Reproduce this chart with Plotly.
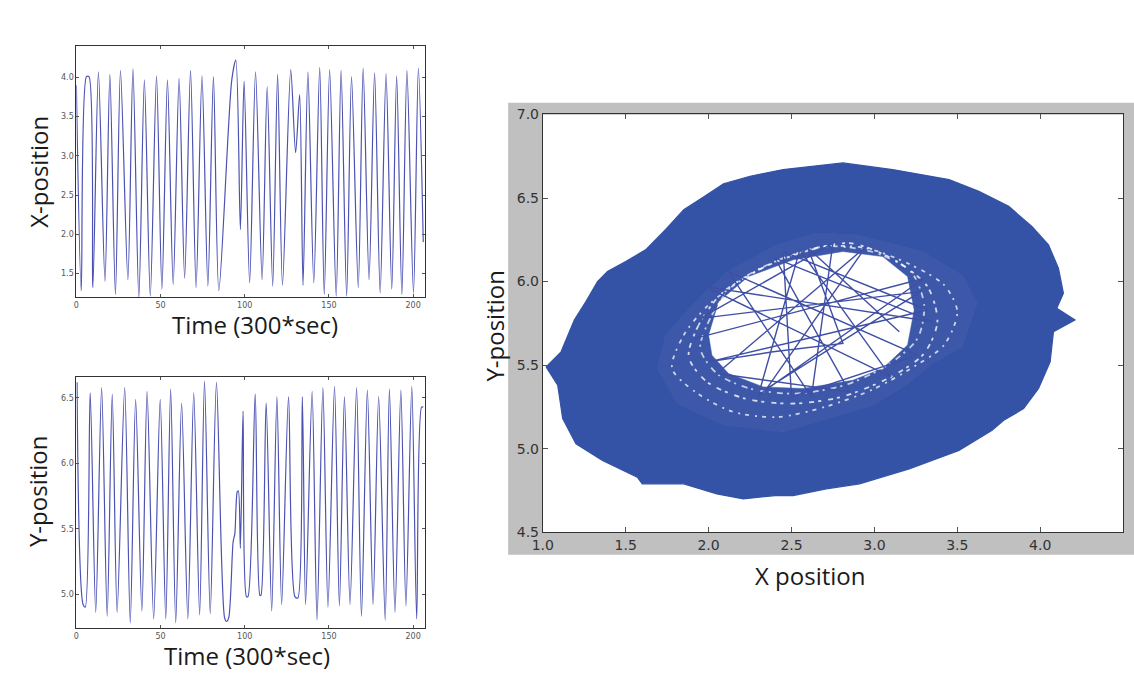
import plotly.graph_objects as go

# ---------------- data ----------------
# Top-left: X-position vs time (turning points of the trace)
tx = [0, 2.9, 6.0, 7.5, 9.8, 13.1, 17.0, 19.9, 23.2, 26.2, 30.6, 33.6, 37.1, 40.4, 43.9,
      47.6, 50.8, 54.1, 57.5, 61.0, 64.3, 67.8, 71.1, 74.6, 78.1, 81.4, 84.6, 92.3, 94.7,
      97.4, 99.6, 102.9, 106.4, 110.3, 113.3, 116.6, 119.5, 122.4, 127.3, 130.2, 132.6,
      134.6, 137.5, 141.0, 144.5, 147.2, 150.4, 154.3, 157.2, 160.5, 163.4, 167.4, 170.3,
      173.8, 177.1, 180.4, 183.9, 187.3, 190.2, 193.3, 196.3, 200.2, 203.1, 206.0]
xpos = [3.90, 1.28, 4.01, 4.01, 1.32, 4.07, 1.40, 4.04, 1.23, 4.09, 1.42, 4.11, 1.19, 3.97, 1.21,
        4.02, 1.30, 3.97, 1.36, 3.99, 1.44, 4.09, 1.32, 4.02, 1.34, 4.01, 1.28, 3.97, 4.22,
        2.06, 3.95, 1.38, 4.07, 1.42, 3.88, 1.34, 4.04, 1.35, 4.10, 3.04, 3.78,
        1.35, 4.07, 1.38, 4.13, 1.23, 4.10, 1.21, 4.09, 1.21, 4.01, 1.32, 4.12,
        1.42, 4.06, 1.25, 4.05, 1.30, 4.02, 1.23, 4.09, 1.25, 4.12, 1.90]

# Bottom-left: Y-position vs time
ty = [0.4, 4.0, 5.3, 8.2, 11.5, 15.0, 18.3, 21.3, 24.2, 28.7, 32.0, 35.2, 38.9, 42.0, 45.9,
      49.8, 53.1, 56.0, 59.0, 62.5, 66.2, 69.7, 73.2, 76.1, 79.5, 83.2, 88.0, 89.2, 90.5,
      93.1, 94.1, 95.5, 96.2, 97.4, 99.0, 101.0, 101.9, 106.2, 109.0, 109.6, 112.7, 116.0,
      119.1, 121.9, 126.0, 129.8, 131.5, 134.2, 136.1, 140.0, 142.9, 146.4, 149.4, 153.3,
      156.2, 159.2, 162.5, 166.4, 169.3, 172.8, 176.2, 179.5, 183.4, 185.9, 189.2, 192.7,
      195.7, 199.2, 202.1, 205.0, 206.0]
ypos = [6.62, 4.92, 4.90, 6.54, 4.86, 6.58, 4.83, 6.53, 4.86, 6.58, 4.78, 6.49, 4.87, 6.55, 4.81,
        6.49, 4.81, 6.57, 4.78, 6.46, 4.81, 6.54, 4.84, 6.63, 4.85, 6.62, 4.82, 4.79, 4.82,
        5.40, 5.46, 5.78, 5.79, 5.35, 6.40, 4.98, 4.98, 6.53, 4.99, 4.99, 6.46, 4.87,
        6.51, 4.92, 6.51, 4.98, 4.97, 6.51, 4.92, 6.55, 4.80, 6.58, 4.90, 6.59,
        4.91, 6.51, 4.92, 6.58, 4.83, 6.56, 4.92, 6.51, 4.80, 6.57, 4.86, 6.56,
        4.91, 6.59, 4.81, 6.43, 6.43]

# Right: phase portrait (traced outlines of the dense trajectory)
ring_outer_x = [1.02, 1.09, 1.12, 1.20, 1.36, 1.57, 1.60, 1.72, 1.85, 2.05, 2.21, 2.40, 2.51,
                2.71, 2.91, 3.21, 3.35, 3.51, 3.71, 3.78, 3.90, 3.99, 4.06, 4.08, 4.21, 4.10,
                4.14, 4.11, 4.05, 3.95, 3.81, 3.63, 3.45, 3.11, 2.81, 2.63, 2.45, 2.25, 2.09,
                1.96, 1.85, 1.74, 1.62, 1.50, 1.39, 1.33, 1.26, 1.19, 1.11]
ring_outer_y = [5.49, 5.38, 5.18, 5.03, 4.93, 4.83, 4.79, 4.79, 4.79, 4.73, 4.70, 4.72, 4.72,
                4.76, 4.79, 4.88, 4.93, 4.99, 5.11, 5.17, 5.24, 5.36, 5.52, 5.70, 5.77, 5.84,
                5.93, 6.08, 6.22, 6.33, 6.45, 6.54, 6.61, 6.67, 6.71, 6.69, 6.67, 6.63, 6.585,
                6.50, 6.43, 6.31, 6.19, 6.12, 6.06, 6.00, 5.88, 5.77, 5.58]
lace_outer_x = [1.69, 1.74, 1.91, 2.11, 2.41, 2.65, 2.89, 3.29, 3.53, 3.62, 3.53, 3.35, 3.19,
                2.99, 2.69, 2.45, 2.09, 1.81]
lace_outer_y = [5.48, 5.68, 5.87, 6.06, 6.22, 6.29, 6.28, 6.18, 6.04, 5.87, 5.61, 5.51, 5.38,
                5.26, 5.17, 5.10, 5.14, 5.27]
hole_x = [2.00, 2.06, 2.24, 2.51, 2.81, 3.05, 3.20, 3.24, 3.20, 3.05, 2.87, 2.57, 2.33, 2.12, 2.02]
hole_y = [5.68, 5.88, 6.03, 6.13, 6.18, 6.15, 6.03, 5.83, 5.62, 5.48, 5.41, 5.36, 5.37, 5.45, 5.56]
# white gaps seen inside the lace band (three strands)
gap1_x = [1.78, 1.85, 2.00, 2.20, 2.45, 2.70, 2.95, 3.20, 3.42, 3.50, 3.42, 3.22, 2.98, 2.70,
          2.42, 2.15, 1.92, 1.78]
gap1_y = [5.48, 5.68, 5.86, 6.01, 6.14, 6.21, 6.20, 6.11, 5.98, 5.82, 5.62, 5.48, 5.35,
          5.25, 5.19, 5.22, 5.34, 5.48]
gap2_x = [1.88, 1.94, 2.08, 2.30, 2.55, 2.85, 3.12, 3.32, 3.38, 3.30, 3.10, 2.80, 2.50,
          2.22, 1.99, 1.88]
gap2_y = [5.55, 5.74, 5.93, 6.07, 6.17, 6.23, 6.13, 5.97, 5.76, 5.57, 5.43, 5.31, 5.27,
          5.30, 5.40, 5.55]
gap3_x = [1.95, 2.02, 2.15, 2.40, 2.70, 2.98, 3.22, 3.30, 3.26, 3.08, 2.82, 2.52, 2.25, 2.05, 1.95]
gap3_y = [5.60, 5.80, 5.98, 6.12, 6.21, 6.18, 6.06, 5.86, 5.66, 5.50, 5.38, 5.33, 5.36, 5.45, 5.60]
chord_x = [1.92, 3.30, 2.30, 2.55, 3.10, 1.98, 3.35, 2.40, 2.85, 2.05, 2.95, 2.35, 3.28, 1.95,
           2.75, 2.62, 2.12, 3.26, 2.50, 2.45, 3.32, 2.00, 2.39, 2.81, 2.60, 3.15]
chord_y = [5.66, 6.02, 5.32, 6.19, 5.43, 5.97, 5.76, 6.14, 5.34, 5.45, 6.21, 5.36, 5.94, 5.78,
           6.23, 5.31, 6.06, 5.56, 5.31, 6.18, 5.83, 5.52, 5.58, 5.63, 6.20, 5.70]

# ---------------- figure ----------------
W, H = 1134, 678
line_c = "#4c52b2"
ring_c = "#3453a6"

def px_x(p):
    return p / W

def px_y(p):
    return 1 - p / H

fig = go.Figure()

fig.add_trace(go.Scatter(x=tx, y=xpos, mode="lines", xaxis="x", yaxis="y",
                         line=dict(color=line_c, width=1.2, shape="spline", smoothing=0.8),
                         showlegend=False, hoverinfo="skip"))
fig.add_trace(go.Scatter(x=ty, y=ypos, mode="lines", xaxis="x2", yaxis="y2",
                         line=dict(color=line_c, width=1.2, shape="spline", smoothing=0.8),
                         showlegend=False, hoverinfo="skip"))

# solid ring (outer outline with the lace region cut out)
rx = ring_outer_x + [ring_outer_x[0]] + lace_outer_x + [lace_outer_x[0], ring_outer_x[0]]
ry = ring_outer_y + [ring_outer_y[0]] + lace_outer_y + [lace_outer_y[0], ring_outer_y[0]]
fig.add_trace(go.Scatter(x=rx, y=ry, mode="lines", fill="toself", fillcolor=ring_c,
                         xaxis="x3", yaxis="y3", line=dict(color=ring_c, width=1.2),
                         showlegend=False, hoverinfo="skip"))
# lace band (lace outline with the hole cut out)
hx_rev = hole_x[::-1]
hy_rev = hole_y[::-1]
lx = lace_outer_x + [lace_outer_x[0]] + hx_rev + [hx_rev[0], lace_outer_x[0]]
ly = lace_outer_y + [lace_outer_y[0]] + hy_rev + [hy_rev[0], lace_outer_y[0]]
fig.add_trace(go.Scatter(x=lx, y=ly, mode="lines", fill="toself", fillcolor="#3d58a9",
                         xaxis="x3", yaxis="y3", line=dict(color="#3d58a9", width=0.5),
                         showlegend=False, hoverinfo="skip"))
for gx, gy, dash, op in ((gap1_x, gap1_y, "4px,5px,2px,6px", 0.75),
                         (gap2_x, gap2_y, "3px,4px,5px,7px", 0.8),
                         (gap3_x, gap3_y, "6px,6px,2px,4px", 0.7)):
    fig.add_trace(go.Scatter(x=gx, y=gy, mode="lines", xaxis="x3", yaxis="y3",
                             line=dict(color=f"rgba(255,255,255,{op})", width=1.8, dash=dash,
                                       shape="spline", smoothing=0.8),
                             showlegend=False, hoverinfo="skip"))
# chords through the hole
fig.add_trace(go.Scatter(x=chord_x, y=chord_y, mode="lines", xaxis="x3", yaxis="y3",
                         line=dict(color="#3f4fa6", width=1.4),
                         showlegend=False, hoverinfo="skip"))

small_tick = dict(family="DejaVu Sans", size=8, color="#555555")
big_tick = dict(family="DejaVu Sans", size=14, color="#333333")
common = dict(showgrid=False, zeroline=False, showline=True, linecolor="#333333",
              linewidth=1, mirror="ticks", ticks="inside", tickcolor="#555555")

fig.update_layout(
    width=W, height=H, margin=dict(l=0, r=0, t=0, b=0),
    paper_bgcolor="white", plot_bgcolor="white",
    xaxis=dict(domain=[px_x(66), px_x(418)], anchor="y", range=[0, 207],
               tickvals=[0, 50, 100, 150, 200], ticklen=3, tickfont=small_tick, **common),
    yaxis=dict(domain=[px_y(296), px_y(39)], anchor="x", range=[1.2, 4.4],
               tickvals=[1.5, 2.0, 2.5, 3.0, 3.5, 4.0], tickformat=".1f", ticklen=3,
               tickfont=small_tick, **common),
    xaxis2=dict(domain=[px_x(66), px_x(418)], anchor="y2", range=[0, 207],
                tickvals=[0, 50, 100, 150, 200], ticklen=3, tickfont=small_tick, **common),
    yaxis2=dict(domain=[px_y(635), px_y(378)], anchor="x2", range=[4.74, 6.66],
                tickvals=[5.0, 5.5, 6.0, 6.5], tickformat=".1f", ticklen=3,
                tickfont=small_tick, **common),
    xaxis3=dict(domain=[px_x(537), px_x(1123)], anchor="y3", range=[1.0, 4.5],
                tickvals=[1.0, 1.5, 2.0, 2.5, 3.0, 3.5, 4.0, 4.5], tickformat=".1f",
                ticklen=5, tickfont=big_tick, **common),
    yaxis3=dict(domain=[px_y(537), px_y(109)], anchor="x3", range=[4.5, 7.0],
                tickvals=[4.5, 5.0, 5.5, 6.0, 6.5, 7.0], tickformat=".1f",
                ticklen=5, tickfont=big_tick, **common),
    shapes=[
        dict(type="rect", xref="paper", yref="paper", x0=px_x(502), x1=1.0,
             y0=px_y(560), y1=px_y(97), fillcolor="#c0c0c0", line=dict(width=0),
             layer="below"),
        dict(type="rect", xref="x3", yref="y3", x0=1.0, x1=4.5, y0=4.5, y1=7.0,
             fillcolor="white", line=dict(width=0), layer="below"),
    ],
)

title_font = dict(family="Open Sans", size=24, color="#1a1a1a")
ann = [
    dict(text="X-position", x=px_x(27), y=px_y(168), textangle=-90),
    dict(text="Y-position", x=px_x(27), y=px_y(495), textangle=-90),
    dict(text="Time (300*sec)", x=px_x(246), y=px_y(324), textangle=0),
    dict(text="Time (300*sec)", x=px_x(238), y=px_y(663), textangle=0),
    dict(text="Y-position", x=px_x(488), y=px_y(325), textangle=-90),
    dict(text="X position", x=px_x(807), y=px_y(581), textangle=0),
]
for a in ann:
    fig.add_annotation(xref="paper", yref="paper", showarrow=False, font=title_font,
                       xanchor="center", yanchor="middle", **a)

fig.write_html(
    "out.html",
    config={"displayModeBar": False, "staticPlot": True},
    post_script="document.body.style.margin='0';document.body.style.overflow='hidden';",
)
